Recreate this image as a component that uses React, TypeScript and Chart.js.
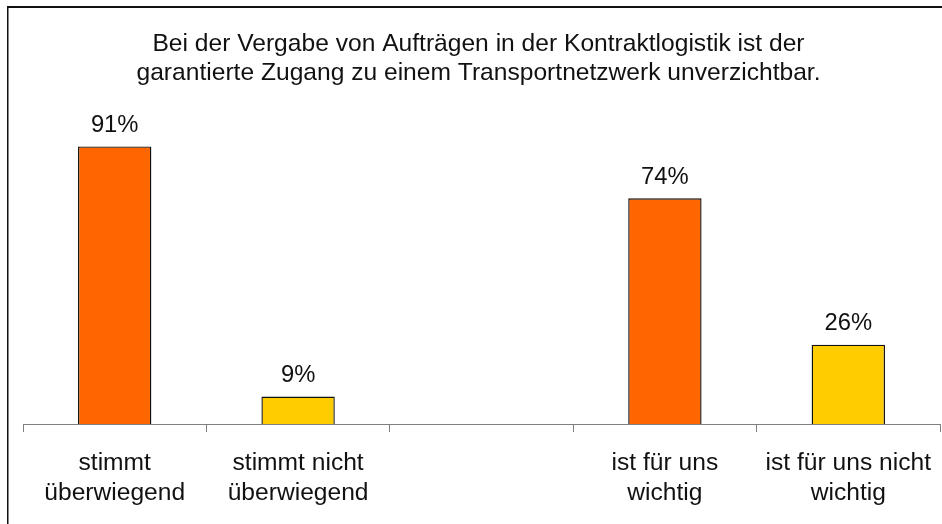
import React, { useEffect, useRef } from "react";
import { Chart, registerables } from "chart.js";

Chart.register(...registerables);

const titleLines = [
  "Bei der Vergabe von Aufträgen in der Kontraktlogistik ist der",
  "garantierte Zugang zu einem Transportnetzwerk unverzichtbar.",
];
const categories: (string | string[])[] = [
  ["stimmt", "überwiegend"],
  ["stimmt nicht", "überwiegend"],
  "",
  ["ist für uns", "wichtig"],
  ["ist für uns nicht", "wichtig"],
];
const values: (number | null)[] = [91, 9, null, 74, 26];
const barColors = ["#FF6600", "#FFCC00", "#FFFFFF", "#FF6600", "#FFCC00"];
const FONT = "'Liberation Sans', Arial, Helvetica, sans-serif";

const frame = {
  id: "frame",
  beforeDraw(chart: any) {
    const ctx = chart.ctx;
    ctx.save();
    ctx.fillStyle = "#ffffff";
    ctx.fillRect(0, 0, chart.width, chart.height);
    ctx.fillStyle = "#111111";
    ctx.fillRect(7, 6, chart.width - 7, 2);
    ctx.fillRect(7, 6, 1.5, chart.height - 6);
    ctx.restore();
  },
};

const valueLabels = {
  id: "valueLabels",
  afterDatasetsDraw(chart: any) {
    const ctx = chart.ctx;
    const meta = chart.getDatasetMeta(0);
    ctx.save();
    ctx.font = `23.8px ${FONT}`;
    ctx.fillStyle = "#111111";
    ctx.textAlign = "center";
    ctx.textBaseline = "alphabetic";
    meta.data.forEach((bar: any, i: number) => {
      const v = values[i];
      if (v === null || v === undefined) return;
      ctx.fillText(`${v}%`, bar.x, bar.y - 14.5);
    });
    ctx.restore();
  },
};

export default function App() {
  const ref = useRef<HTMLCanvasElement>(null);
  useEffect(() => {
    if (!ref.current) return;
    const chart = new Chart(ref.current, {
      type: "bar",
      data: {
        labels: categories,
        datasets: [
          {
            data: values,
            backgroundColor: barColors,
            borderColor: "#111111",
            borderWidth: 1.4,
            categoryPercentage: 1,
            barPercentage: 0.4,
          },
        ],
      },
      options: {
        responsive: false,
        animation: false,
        layout: { padding: { left: 17, right: 2, top: 0, bottom: 0 } },
        plugins: {
          legend: { display: false },
          tooltip: { enabled: false },
          title: {
            display: true,
            text: titleLines,
            color: "#111111",
            font: { family: FONT, size: 24.6, weight: "normal", lineHeight: 1.18 },
            padding: { top: 29.6, bottom: 31.3 },
          },
        },
        scales: {
          y: {
            display: true,
            min: 0,
            max: 100,
            ticks: { display: false },
            grid: { display: false },
            border: { display: false },
            afterFit: (scale: any) => {
              scale.width = 6;
            },
          },
          x: {
            afterFit: (scale: any) => {
              scale.height = 100;
              scale.paddingLeft = 0;
              scale.paddingRight = 0;
            },
            border: { display: true, color: "#808080", width: 1 },
            grid: {
              display: true,
              drawOnChartArea: false,
              drawTicks: true,
              tickLength: 8,
              color: "#808080",
              offset: true,
            },
            ticks: {
              color: "#111111",
              font: { family: FONT, size: 24.6, lineHeight: 1.22 },
              padding: 16,
              maxRotation: 0,
              autoSkip: false,
            },
          },
        },
      },
      plugins: [frame, valueLabels],
    });
    return () => chart.destroy();
  }, []);
  return (
    <div style={{ position: "absolute", left: 0, top: 0, width: 942, height: 524 }}>
      <canvas ref={ref} width={942} height={524} />
    </div>
  );
}
